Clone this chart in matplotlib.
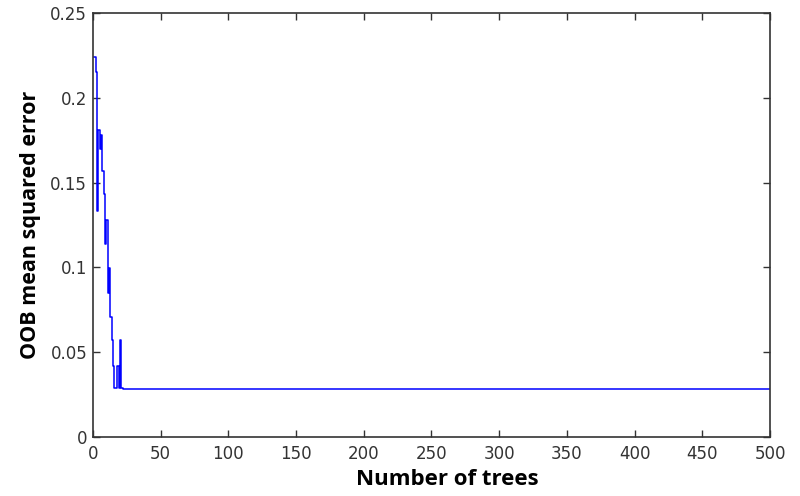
import matplotlib
matplotlib.use('Agg')
import matplotlib.pyplot as plt
import numpy as np

# OOB error per number of trees
oob_head = [0.224, 0.215, 0.133, 0.181, 0.170, 0.178, 0.157, 0.143, 0.114,
            0.128, 0.085, 0.0996, 0.071, 0.057, 0.042, 0.0288, 0.0288,
            0.042, 0.0288, 0.057, 0.0288]
oob_tail_value = 0.0285
n_trees = 500

oob_error = np.array(oob_head + [oob_tail_value] * (n_trees - len(oob_head)))
trees = np.arange(1, n_trees + 1)

xticks = [0, 50, 100, 150, 200, 250, 300, 350, 400, 450, 500]
yticks = [0, 0.05, 0.1, 0.15, 0.2, 0.25]
ytick_labels = ['0', '0.05', '0.1', '0.15', '0.2', '0.25']

plt.rcParams['font.family'] = ['DejaVu Sans']

fig = plt.figure(figsize=(8, 4.96), dpi=100)
ax = fig.add_axes([0.116, 0.119, 0.8465, 0.855])

ax.plot(trees, oob_error, color='#0000ff', linewidth=1.1, drawstyle='steps-post')

ax.set_xlim(0, 500)
ax.set_ylim(0, 0.25)
ax.set_xticks(xticks)
ax.set_xticklabels([str(t) for t in xticks])
ax.set_yticks(yticks)
ax.set_yticklabels(ytick_labels)

ax.tick_params(direction='in', length=5, width=1, top=True, right=True,
               labelsize=12, colors='#333333')
ax.tick_params(axis='x', pad=6)
ax.tick_params(axis='y', pad=4)
for s in ax.spines.values():
    s.set_linewidth(1.2)
    s.set_color('#333333')

ax.set_xlabel('Number of trees', fontsize=16, fontweight='bold',
              family=['Open Sans', 'DejaVu Sans'])
ax.xaxis.set_label_coords(0.524, -0.075)
ax.set_ylabel('OOB mean squared error', fontsize=15.5, fontweight='bold',
              family=['Open Sans', 'DejaVu Sans'], labelpad=7)

fig.savefig('out.png', dpi=100)
